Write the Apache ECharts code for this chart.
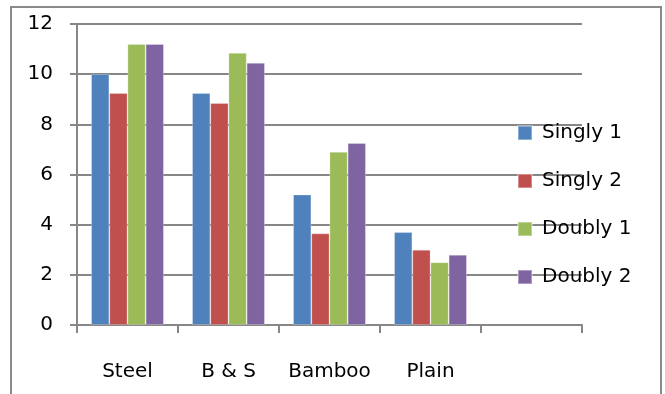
<!DOCTYPE html>
<html>
<head>
<meta charset="utf-8">
<script src="https://cdn.jsdelivr.net/npm/echarts@6/dist/echarts.min.js"></script>
<style>
  html, body { margin: 0; padding: 0; background: #fff; }
  #chart { width: 665px; height: 394px; }
</style>
</head>
<body>
<div id="chart"></div>
<script>
// Reinforcement types (the last slot is left empty on purpose)
const categories = ['Steel', 'B & S', 'Bamboo', 'Plain', ''];
const seriesNames = ['Singly 1', 'Singly 2', 'Doubly 1', 'Doubly 2'];
const singly1 = [10.0, 9.25, 5.2, 3.7];
const singly2 = [9.25, 8.85, 3.65, 3.0];
const doubly1 = [11.2, 10.85, 6.9, 2.5];
const doubly2 = [11.2, 10.45, 7.25, 2.8];
const yTicks = [0, 2, 4, 6, 8, 10, 12];

const colors = ['#4F81BD', '#C0504D', '#9BBB59', '#8064A2'];
const FONT = 'DejaVu Sans';
const GRID_COLOR = '#878787';

const chart = echarts.init(document.getElementById('chart'), null, { renderer: 'canvas' });

const values = [singly1, singly2, doubly1, doubly2];

chart.setOption({
  animation: false,
  color: colors,
  textStyle: { fontFamily: FONT },
  graphic: [{
    type: 'rect',
    shape: { x: 11, y: 7, width: 650, height: 400 },
    style: { fill: 'none', stroke: '#8a8a8a', lineWidth: 2 },
    silent: true,
    z: -10
  }],
  grid: { left: 77, right: 83, top: 24, bottom: 69, containLabel: false },
  legend: {
    orient: 'vertical',
    left: 512,
    top: 117,
    itemWidth: 14,
    itemHeight: 14,
    itemGap: 26,
    icon: 'rect',
    textStyle: { fontFamily: FONT, fontSize: 20, color: '#000', lineHeight: 22, padding: [0, 0, 0, 5] },
    data: seriesNames
  },
  xAxis: {
    type: 'category',
    data: categories,
    boundaryGap: true,
    axisLine: { lineStyle: { color: GRID_COLOR, width: 2 } },
    axisTick: { show: true, length: 8, alignWithLabel: false, lineStyle: { color: GRID_COLOR, width: 2 } },
    axisLabel: { fontFamily: FONT, fontSize: 20, color: '#000', margin: 37, interval: 0 },
    splitLine: { show: false }
  },
  yAxis: {
    type: 'value',
    min: yTicks[0],
    max: yTicks[yTicks.length - 1],
    interval: 2,
    axisLine: { show: true, lineStyle: { color: GRID_COLOR, width: 2 } },
    axisTick: { show: true, length: 7, lineStyle: { color: GRID_COLOR, width: 2 } },
    axisLabel: { fontFamily: FONT, fontSize: 20, color: '#000', margin: 24 },
    splitLine: { show: true, lineStyle: { color: GRID_COLOR, width: 2 } }
  },
  series: seriesNames.map((name, i) => ({
    name: name,
    type: 'bar',
    data: values[i],
    barGap: '0%',
    barCategoryGap: '28%',
    itemStyle: { color: colors[i], borderColor: 'rgba(255,255,255,0.35)', borderWidth: 0.8 }
  }))
});
</script>
</body>
</html>
